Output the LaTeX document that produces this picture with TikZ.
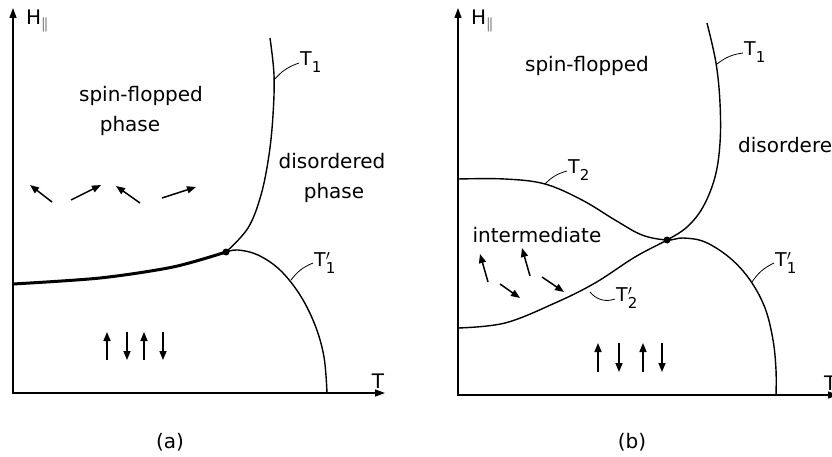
\documentclass[tikz,border=0pt]{standalone}
\usepackage{fontspec}
\setmainfont{DejaVu Sans}
\usetikzlibrary{arrows.meta}

% temperature labels with a large, low subscript
\newcommand{\tlab}[1]{T\raisebox{-7pt}{\fontsize{15}{15}\selectfont #1}}
\newcommand{\tlabp}[1]{T\rlap{\raisebox{5.5pt}{\fontsize{15}{15}\selectfont$\prime$}}\raisebox{-7pt}{\fontsize{15}{15}\selectfont #1}}

\begin{document}
\begin{tikzpicture}[
    x=1pt, y=-1pt,
    region/.style={font=\fontsize{20}{24}\selectfont, anchor=base, inner sep=0pt},
    tlabel/.style={font=\fontsize{19}{22}\selectfont, anchor=base west, inner sep=1pt},
    boundary/.style={line width=1.4pt},
    axes/.style={line width=1.4pt, {Triangle[length=10pt,width=7pt]}-{Triangle[length=10pt,width=7pt]}},
    spin/.style={line width=1.5pt, -{Triangle[length=9pt,width=7pt]}},
    leader/.style={line width=0.8pt},
    dot/.style={circle, fill, inner sep=0pt, minimum size=7pt}
  ]
    \useasboundingbox (0,0) rectangle (832,457);

    % ---- panel (a)
    \coordinate (oa) at (13,393);
    \coordinate (ya) at (13,8);
    \coordinate (xa) at (385,393);
    \draw[axes] (ya) -- (oa) -- (xa);
    \node[region, anchor=base west] (ha) at (26,25) {H\textsubscript{$\parallel$}};
    \node[region] (ta) at (378,388) {T};

    \draw[boundary] plot[smooth, tension=0.6] coordinates {(270,38) (274,75) (273,115) (269,155) (261,195) (248,228) (226,252)};
    \draw[line width=3pt] plot[smooth] coordinates {(13,284) (100,278) (173,267) (226,252)};
    \draw[boundary] plot[smooth, tension=0.6] coordinates {(226,252) (238,250) (258,255) (280,270) (300,295) (315,325) (324,357) (327,393)};
    \node[dot] (tpa) at (226,252) {};

    \node[tlabel] (t1a) at (299,66) {\tlab{1}};
    \node[tlabel] (t1pa) at (313,266) {\tlabp{1}};
    \coordinate (l1a) at (274,80);
    \coordinate (l1pa) at (291,280);
    \draw[leader] (l1a) to[bend left=15] ([yshift=3pt]t1a.base west);
    \draw[leader] (l1pa) to[bend left=15] ([yshift=3pt]t1pa.base west);

    \node[region] (sfa) at (141,102) {spin-flopped};
    \node[region] (sfpa) at (130,132) {phase};
    \node[region] (da) at (332,169) {disordered};
    \node[region] (dpa) at (334,199) {phase};
    \node[region] (capa) at (170,448) {(a)};

    \foreach \xa/\ya/\xb/\yb in {52/202/30/185, 71/200/101/185, 140/203/116/186, 162/198/196/187}
      \draw[spin] (\xa,\ya) -- (\xb,\yb);
    \foreach \x in {107,144}
      \draw[spin] (\x,360) -- (\x,332);
    \foreach \x in {127,163}
      \draw[spin] (\x,332) -- (\x,360);

    % ---- panel (b)
    \coordinate (ob) at (458,395);
    \coordinate (yb) at (458,8);
    \coordinate (xb) at (838,395);
    \draw[axes] (yb) -- (ob) -- (xb);
    \node[region, anchor=base west] (hb) at (471,25) {H\textsubscript{$\parallel$}};
    \node[region, anchor=base west] (tb) at (824,390) {T};

    % T2 continuing into T1'
    \draw[boundary] plot[smooth, tension=0.6] coordinates {(458,179) (505,179) (545,184) (582,200) (615,220) (642,235) (667,240) (683,238) (705,242) (730,258) (750,280) (765,308) (773,340) (776,370) (776,395)};
    % T1 continuing into T2'
    \draw[boundary] plot[smooth, tension=0.6] coordinates {(707,23) (716,63) (720,103) (720,143) (715,177) (703,207) (687,227) (667,240) (635,257) (595,283) (555,303) (505,323) (458,328)};
    \node[dot] (tpb) at (667,240) {};

    \node[tlabel] (t1b) at (743,56) {\tlab{1}};
    \node[tlabel] (t1pb) at (774,266) {\tlabp{1}};
    \node[tlabel] (t2b) at (567,174) {\tlab{2}};
    \node[tlabel] (t2pb) at (615,301) {\tlabp{2}};
    \coordinate (l1b) at (717,64);
    \coordinate (l1pb) at (752,282);
    \coordinate (l2b) at (545,184);
    \coordinate (l2pb) at (590,292);
    \draw[leader] (l1b) to[bend left=15] ([yshift=3pt]t1b.base west);
    \draw[leader] (l1pb) to[bend left=15] ([yshift=3pt]t1pb.base west);
    \draw[leader] (l2b) to[bend left=15] ([yshift=3pt]t2b.base west);
    \draw[leader] (l2pb) to[bend right=35] ([yshift=2pt]t2pb.base west);

    \node[region] (sfb) at (587,72) {spin-flopped};
    \node[region, anchor=base west] (db) at (738,153) {disordered};
    \node[region] (ib) at (537,242) {intermediate};
    \node[region] (capb) at (632,448) {(b)};

    \foreach \xa/\ya/\xb/\yb in {488/282/480/254, 500/284/520/298, 530/276/522/248, 542/277/564/292}
      \draw[spin] (\xa,\ya) -- (\xb,\yb);
    \foreach \x in {598,643}
      \draw[spin] (\x,372) -- (\x,343);
    \foreach \x in {619,662}
      \draw[spin] (\x,343) -- (\x,372);
\end{tikzpicture}
\end{document}
